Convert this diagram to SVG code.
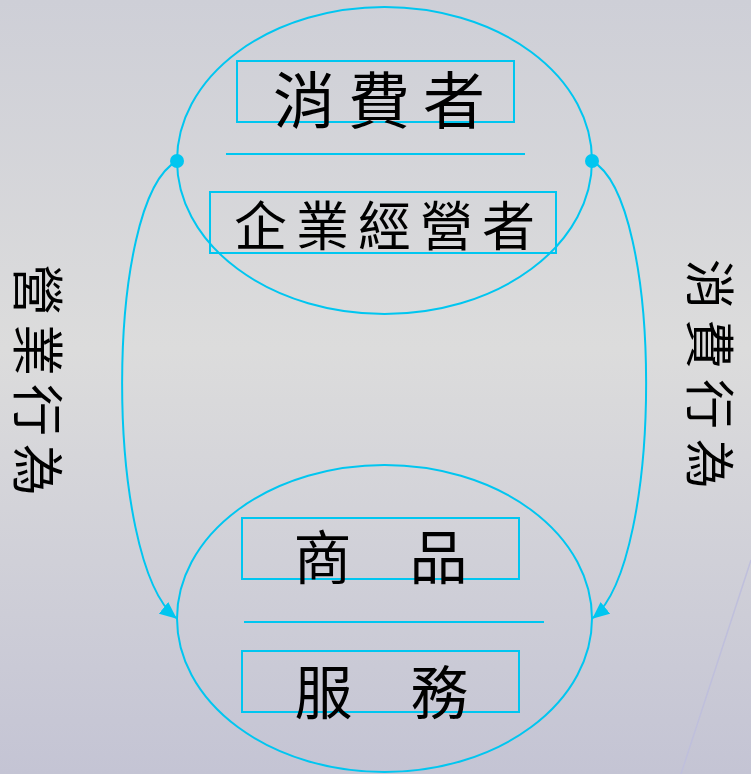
<svg xmlns="http://www.w3.org/2000/svg" width="751" height="774" viewBox="0 0 751 774">
  <defs>
    <linearGradient id="bg" x1="0" y1="0" x2="0" y2="1">
      <stop offset="0" stop-color="#cecfd7"/>
      <stop offset="0.45" stop-color="#dcdcdc"/>
      <stop offset="1" stop-color="#c4c4d4"/>
    </linearGradient>
    <marker id="arr" viewBox="0 0 17 15" refX="16" refY="7.5" markerWidth="17" markerHeight="15" markerUnits="userSpaceOnUse" orient="auto">
      <path d="M0,0 L17,7.5 L0,15 z" fill="#00c6f0"/>
    </marker>
  </defs>
  <style>
    .ell { fill: none; stroke: #00c6f0; stroke-width: 2; }
    .box { fill: none; stroke: #00c6f0; stroke-width: 2; }
    .sep { stroke: #00c6f0; stroke-width: 2; }
    .con { fill: none; stroke: #00c6f0; stroke-width: 2; }
    .dot { fill: #00c6f0; }
    .t { font-family: "Noto Sans CJK TC", "Noto Sans CJK SC", sans-serif; fill: #000; text-anchor: middle; dominant-baseline: central; }
  </style>
  <rect x="0" y="0" width="751" height="774" fill="url(#bg)"/>
  <line x1="751" y1="560" x2="681" y2="774" stroke="#bfbfdc" stroke-width="1.5"/>

  <g id="top-node">
    <ellipse class="ell" cx="384.5" cy="160.5" rx="207.5" ry="153.5"/>
    <rect class="box" x="237" y="61" width="277" height="61"/>
    <text class="t" x="385.5" y="97" font-size="62" letter-spacing="13">消費者</text>
    <line class="sep" x1="226" y1="154" x2="525" y2="154"/>
    <rect class="box" x="210" y="192" width="346" height="61"/>
    <text class="t" x="389" y="223" font-size="53" letter-spacing="9">企業經營者</text>
  </g>

  <g id="bottom-node">
    <ellipse class="ell" cx="384.5" cy="618.5" rx="207.5" ry="153.5"/>
    <rect class="box" x="242" y="518" width="277" height="61"/>
    <text class="t" x="380.5" y="554" font-size="58">商　品</text>
    <line class="sep" x1="244" y1="622" x2="544" y2="622"/>
    <rect class="box" x="242" y="651" width="277" height="61"/>
    <text class="t" x="381.5" y="689" font-size="58">服　務</text>
  </g>

  <g id="connectors">
    <path class="con" d="M177,161 C104,200 104,560 176,618" marker-end="url(#arr)"/>
    <path class="con" d="M592,161 C664,200 664,560 593,618" marker-end="url(#arr)"/>
    <circle class="dot" cx="177" cy="161" r="7"/>
    <circle class="dot" cx="592" cy="161" r="7"/>
  </g>

  <g id="label-left">
    <text class="t" transform="translate(40,381) rotate(90)" x="3" y="0" font-size="52" letter-spacing="8">營業行為</text>
  </g>
  <g id="label-right">
    <text class="t" transform="translate(713,376) rotate(90)" x="3" y="0" font-size="50" letter-spacing="10">消費行為</text>
  </g>
</svg>
